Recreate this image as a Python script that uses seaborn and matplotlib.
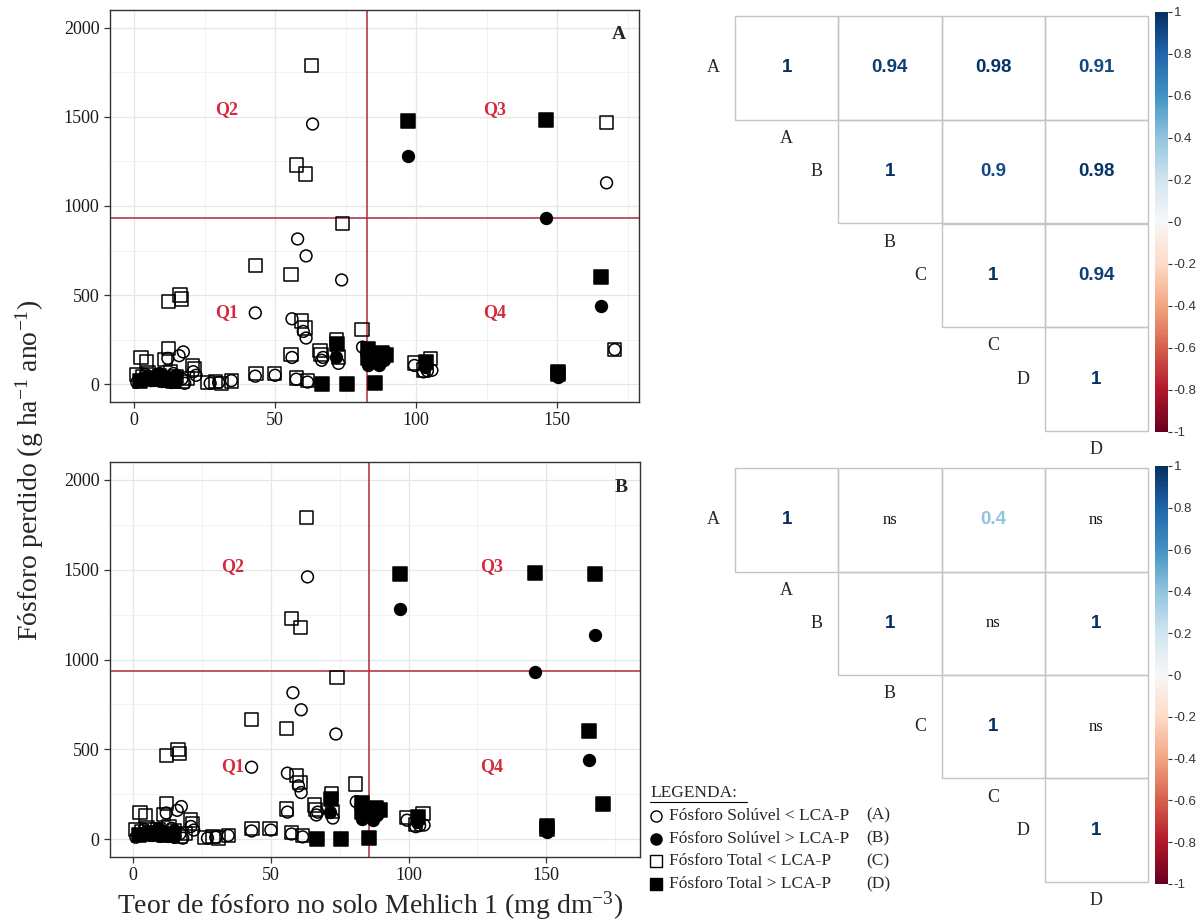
import numpy as np
import matplotlib
matplotlib.use("Agg")
import matplotlib.pyplot as plt
import seaborn as sns
from matplotlib.colors import ListedColormap, Normalize
from matplotlib.lines import Line2D
from matplotlib.patches import Rectangle
import matplotlib.cm as cm

# ---------------- data ----------------
# Panel A
solA_lt_x = [1, 3, 4, 6, 8, 10, 12, 14, 15, 17, 18, 12, 16, 17.5, 21, 22, 27, 30, 34.5, 43, 43, 50, 56, 56,
             58, 57.5, 60, 61, 61, 61.5, 66.5, 67, 72.5, 73.6, 81, 99.4, 102.6, 104, 105.6, 63.3, 167.5, 170.4]
solA_lt_y = [10, 30, 55, 20, 45, 15, 35, 60, 10, 30, 5, 145, 160, 181, 70, 50, 5, 10, 20, 400, 45, 50, 367, 150,
             815, 28, 296, 720, 259, 12, 134, 150, 117, 585, 208, 105, 69, 75, 78, 1460, 1130, 194]
solA_gt_x = [3, 5, 7, 9, 11, 13, 15, 71.6, 82.9, 87, 88.5, 97, 103.2, 146, 150.3, 165.6]
solA_gt_y = [20, 40, 25, 60, 45, 15, 50, 153, 110, 106, 135, 1280, 97, 930, 40, 441]
totA_lt_x = [2.5, 4.5, 12.2, 11, 20.8, 21.5, 1, 3, 5, 7, 9, 11, 13, 15, 17, 19, 26, 29, 31, 34.6, 12.2, 16.3, 16.9,
             43.2, 49.7, 55.7, 55.7, 43, 57.6, 60.8, 63, 59.4, 60.6, 57.6, 61.5, 65.9, 66.3, 71.9, 72.4, 74, 80.8,
             99.4, 102.6, 105.2, 167.5, 170.4]
totA_lt_y = [149, 128, 199, 138, 106, 85, 55, 40, 65, 30, 50, 20, 70, 45, 15, 30, 10, 15, 5, 18, 465, 500, 478,
             60, 60, 168, 614, 665, 1230, 1180, 1790, 354, 315, 35, 20, 190, 165, 250, 153, 901, 306,
             119, 80, 143, 1470, 194]
totA_gt_x = [2, 6, 10, 14, 66.8, 75.5, 85.6, 71.9, 83.1, 83.1, 88, 89.5, 97, 103.4, 146, 150.3, 150.3, 165.4]
totA_gt_y = [20, 35, 30, 20, 0, 0, 5, 223, 199, 149, 175, 162, 1475, 125, 1480, 70, 55, 603]

# Panel B
solB_lt_x = [1, 3, 4, 6, 8, 10, 12, 14, 15, 17, 18, 12, 16, 17.5, 21, 22, 27, 30, 34.5, 43, 43, 50, 56, 56,
             58, 57.5, 60, 61, 61, 61.5, 66.5, 67, 72.5, 73.6, 81, 99.4, 102.6, 104, 105.6, 63.3]
solB_lt_y = [10, 30, 55, 20, 45, 15, 35, 60, 10, 30, 5, 145, 160, 181, 70, 50, 5, 10, 20, 400, 45, 50, 367, 150,
             815, 28, 296, 720, 259, 12, 134, 150, 117, 585, 208, 105, 69, 75, 78, 1460]
solB_gt_x = [3, 5, 7, 9, 11, 13, 15, 71.6, 82.9, 87, 88.5, 97, 103.2, 146, 150.3, 165.6, 167.5, 170.4]
solB_gt_y = [20, 40, 25, 60, 45, 15, 50, 153, 110, 106, 135, 1280, 97, 930, 40, 441, 1135, 194]
totB_lt_x = [2.5, 4.5, 12.2, 11, 20.8, 21.5, 1, 3, 5, 7, 9, 11, 13, 15, 17, 19, 26, 29, 31, 34.6, 12.2, 16.3, 16.9,
             43.2, 49.7, 55.7, 55.7, 43, 57.6, 60.8, 63, 59.4, 60.6, 57.6, 61.5, 65.9, 66.3, 71.9, 72.4, 74, 80.8,
             99.4, 102.6, 105.2]
totB_lt_y = [149, 128, 199, 138, 106, 85, 55, 40, 65, 30, 50, 20, 70, 45, 15, 30, 10, 15, 5, 18, 465, 500, 478,
             60, 60, 168, 614, 665, 1230, 1180, 1790, 354, 315, 35, 20, 190, 165, 250, 153, 901, 306,
             119, 80, 143]
totB_gt_x = [2, 6, 10, 14, 66.8, 75.5, 85.6, 71.9, 83.1, 83.1, 88, 89.5, 97, 103.4, 146, 150.3, 150.3, 165.4,
             167.5, 170.4]
totB_gt_y = [20, 35, 30, 20, 0, 0, 5, 223, 199, 149, 175, 162, 1475, 125, 1480, 70, 55, 603, 1475, 195]

lca_x = [82.5, 85.5]          # vertical reference lines (panel A, B)
lca_y = [935, 935]            # horizontal reference lines
quadrants = ["Q1", "Q2", "Q3", "Q4"]

corr_labels = ["A", "B", "C", "D"]
corr_top = [[1, 0.94, 0.98, 0.91],
            [None, 1, 0.9, 0.98],
            [None, None, 1, 0.94],
            [None, None, None, 1]]
corr_bot = [[1, "ns", 0.4, "ns"],
            [None, 1, "ns", 1],
            [None, None, 1, "ns"],
            [None, None, None, 1]]
cbar_ticks = [-1, -0.8, -0.6, -0.4, -0.2, 0, 0.2, 0.4, 0.6, 0.8, 1]

legend_labels = ["Fósforo Solúvel < LCA-P", "Fósforo Solúvel > LCA-P",
                 "Fósforo Total < LCA-P", "Fósforo Total > LCA-P"]
legend_tags = ["(A)", "(B)", "(C)", "(D)"]

# ---------------- style ----------------
sns.set_style("white")
plt.rcParams["font.family"] = ["Liberation Serif", "DejaVu Serif"]
plt.rcParams["mathtext.fontset"] = "custom"
plt.rcParams["mathtext.rm"] = "Liberation Serif"
plt.rcParams["mathtext.it"] = "Liberation Serif:italic"
plt.rcParams["mathtext.bf"] = "Liberation Serif:bold"

W, H = 1201, 924
fig = plt.figure(figsize=(W / 100, H / 100), dpi=100)


def px(l, t, r, b):
    return [l / W, 1 - b / H, (r - l) / W, (b - t) / H]


RED = "#d42a3c"
LINE_RED = "#b0283a"


def draw_scatter(ax, series, vx, hy, xlim, tag, qpos):
    for xs, ys, mk, filled, s in series:
        sns.scatterplot(x=xs, y=ys, marker=mk, s=s, color="black", edgecolor="black",
                        linewidth=1.1, ax=ax, zorder=3)
        if not filled:
            ax.collections[-1].set_facecolor("none")
    ax.set_xlim(*xlim)
    ax.set_ylim(-100, 2100)
    ax.set_xticks([0, 50, 100, 150])
    ax.set_xticks([25, 75, 125, 175], minor=True)
    ax.set_yticks([0, 500, 1000, 1500, 2000])
    ax.set_yticks([250, 750, 1250, 1750], minor=True)
    ax.grid(which="major", color="#e6e6e6", lw=0.9, zorder=0)
    ax.grid(which="minor", color="#f0f0f0", lw=0.6, zorder=0)
    ax.set_axisbelow(True)
    for sp in ax.spines.values():
        sp.set_color("#333333")
        sp.set_linewidth(1.0)
    ax.tick_params(which="major", direction="out", length=4, width=0.9, color="#333333",
                   labelsize=13, labelcolor="#1a1a1a", bottom=True, left=True)
    ax.tick_params(which="minor", length=0)
    ax.axvline(vx, color=LINE_RED, lw=1.1, zorder=2)
    ax.axhline(hy, color=LINE_RED, lw=1.1, zorder=2)
    for q, (qx, qy) in zip(quadrants, qpos):
        ax.text(qx, qy, q, color=RED, fontsize=13, fontweight="bold", ha="center", va="center", zorder=4)
    ax.text(xlim[1] - 7, 1960, tag, fontsize=14, fontweight="bold", ha="center", va="center")
    ax.set_xlabel("")
    ax.set_ylabel("")


axA = fig.add_axes(px(110, 10, 639, 402))
seriesA = [(solA_lt_x, solA_lt_y, "o", False, 72),
           (solA_gt_x, solA_gt_y, "o", True, 72),
           (totA_lt_x, totA_lt_y, "s", False, 92),
           (totA_gt_x, totA_gt_y, "s", True, 92)]
draw_scatter(axA, seriesA, lca_x[0], lca_y[0], (-8.5, 179), "A",
             [(33, 400), (33, 1540), (128, 1540), (128, 400)])

axB = fig.add_axes(px(110, 462, 640, 857))
seriesB = [(solB_lt_x, solB_lt_y, "o", False, 72),
           (solB_gt_x, solB_gt_y, "o", True, 72),
           (totB_lt_x, totB_lt_y, "s", False, 92),
           (totB_gt_x, totB_gt_y, "s", True, 92)]
draw_scatter(axB, seriesB, lca_x[1], lca_y[1], (-8.4, 184), "B",
             [(36, 405), (36, 1520), (130, 1520), (130, 405)])

fig.text(30 / W, 1 - 470 / H, "Fósforo perdido (g ha$^{-1}$ ano$^{-1}$)", rotation=90,
         fontsize=20, ha="center", va="center")
fig.text(370 / W, 1 - 906 / H, "Teor de fósforo no solo Mehlich 1 (mg dm$^{-3}$)",
         fontsize=20, ha="center", va="center")

# ---------------- correlation matrices ----------------
cmap = plt.get_cmap("RdBu")
norm = Normalize(-1, 1)


def draw_corr(ax, cax, vals):
    n = len(corr_labels)
    mask = np.tril(np.ones((n, n), dtype=bool), k=-1)
    sns.heatmap(np.zeros((n, n)), mask=mask, cmap=ListedColormap(["white"]), cbar=False,
                linewidths=0, ax=ax, xticklabels=False, yticklabels=False)
    ax.set_xlim(-0.02, n + 0.02)
    ax.set_ylim(n + 0.02, -0.02)
    for i in range(n):
        for j in range(i, n):
            ax.add_patch(Rectangle((j, i), 1, 1, facecolor="none", edgecolor="#c4c4c4", lw=1.0,
                                   clip_on=False))
            v = vals[i][j]
            if v == "ns":
                ax.text(j + 0.5, i + 0.5, "ns", fontsize=12, ha="center", va="center", color="#111111")
            else:
                ax.text(j + 0.5, i + 0.5, f"{v:g}", color=cmap(norm(v)), fontsize=13.5,
                        fontweight="bold", family="Liberation Sans", ha="center", va="center")
        ax.text(i - 0.15, i + 0.5, corr_labels[i], fontsize=13, ha="right", va="center")
        ax.text(i + 0.5, i + 1.18, corr_labels[i], fontsize=13, ha="center", va="center")
    sm = cm.ScalarMappable(norm=norm, cmap=cmap)
    cb = fig.colorbar(sm, cax=cax, ticks=cbar_ticks)
    cb.outline.set_visible(False)
    cax.set_yticklabels([f"{t:g}" for t in cbar_ticks], family="Liberation Sans", fontsize=9.5,
                        color="#333333")
    cax.tick_params(length=3, width=0.8, color="#333333", pad=1)


axC1 = fig.add_axes(px(733, 14, 1150, 433))
cax1 = fig.add_axes(px(1155, 12, 1168, 432))
draw_corr(axC1, cax1, corr_top)

axC2 = fig.add_axes(px(733, 466, 1150, 884))
cax2 = fig.add_axes(px(1155, 466, 1168, 884))
draw_corr(axC2, cax2, corr_bot)

# ---------------- legend ----------------
lx, ly0, dy = 650, 793, 22.8
fig.text(lx / W, 1 - ly0 / H, "LEGENDA:", fontsize=12.5, ha="left", va="center")
fig.add_artist(Line2D([lx / W, 747 / W], [1 - 802 / H, 1 - 802 / H], color="black", lw=0.8,
                      transform=fig.transFigure))
leg_marks = [("o", "none"), ("o", "black"), ("s", "none"), ("s", "black")]
for k, (lab, tg) in enumerate(zip(legend_labels, legend_tags)):
    yy = 1 - (ly0 + dy * (k + 1)) / H
    mk, fc = leg_marks[k]
    fig.add_artist(Line2D([656 / W], [yy], marker=mk, ms=8 if mk == "o" else 8.5, mfc=fc, mec="black",
                          mew=1.0, linestyle="none", transform=fig.transFigure))
    fig.text(669 / W, yy, lab, fontsize=12.5, ha="left", va="center")
    fig.text(866 / W, yy, tg, fontsize=12.5, ha="left", va="center")

fig.savefig("out.png", dpi=100)
